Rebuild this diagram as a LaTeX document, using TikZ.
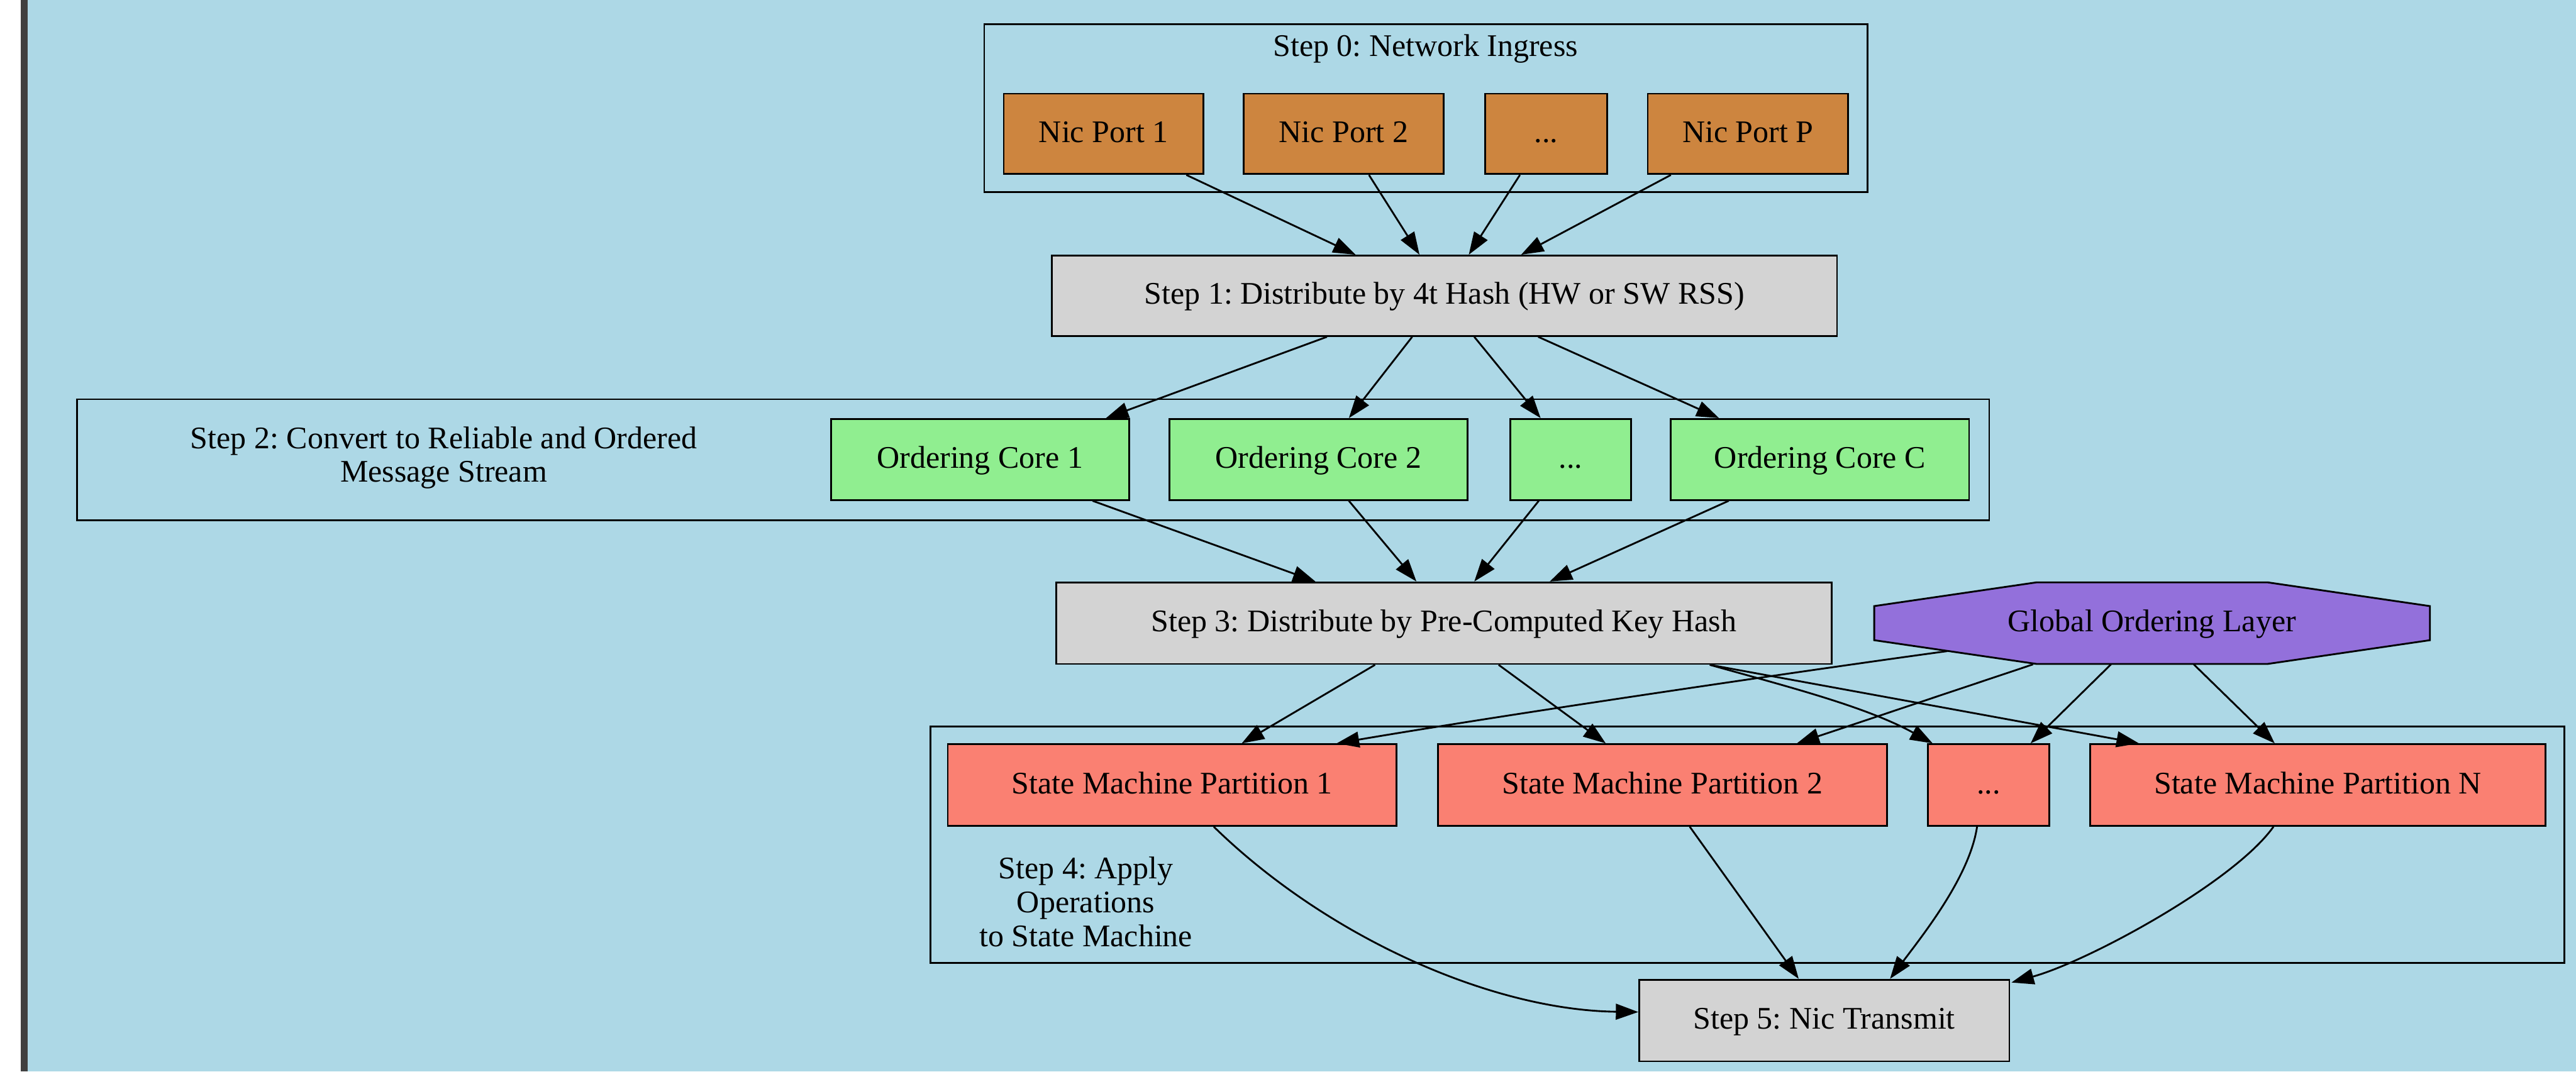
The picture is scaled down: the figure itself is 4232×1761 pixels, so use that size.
\documentclass[tikz,border=0pt]{standalone}
\usepackage{fontspec}
\setmainfont{Liberation Serif}
\usetikzlibrary{arrows.meta,calc}
\definecolor{bgblue}{HTML}{ADD8E6}
\definecolor{edgestrip}{HTML}{404040}
\definecolor{nicport}{HTML}{CD853F}
\definecolor{stepgray}{HTML}{D3D3D3}
\definecolor{coregreen}{HTML}{90EE90}
\definecolor{smsalmon}{HTML}{FA8072}
\definecolor{golpurple}{HTML}{9370DB}
\frenchspacing
\begin{document}
\begin{tikzpicture}[x=0.27101pt,y=-0.27101pt,
  font=\fontsize{14pt}{15pt}\selectfont,
  box/.style={draw=black, line width=0.8pt, inner sep=0pt, align=center,
    text height=10pt, text depth=2.4pt},
  sz/.style 2 args={minimum width={#1*0.27101pt}, minimum height={#2*0.27101pt}},
  cluster/.style={draw=black, line width=0.8pt},
  conn/.style={line width=0.8pt, -{Triangle[length=10pt,width=7pt]}},
  lbl/.style={align=center, inner sep=0pt}]
% page and background
\useasboundingbox (0,0) rectangle (4232,1761);
\fill[white] (0,0) rectangle (34,1761);
\fill[edgestrip] (34,0) rectangle (45,1761);
\fill[bgblue] (45,0) rectangle (4232,1761);

% clusters
\draw[cluster] (1617,40) rectangle (3068,316);
\draw[cluster] (127,656) rectangle (3268,855);
\draw[cluster] (1529,1194) rectangle (4213,1582);
\node[lbl] (l0) at (2342,80) {Step 0: Network Ingress};
\node[lbl] (l2) at (729,752) {Step 2: Convert to Reliable and Ordered\\Message Stream};
\node[lbl] (l4) at (1784,1482) {Step 4: Apply\\Operations\\to State Machine};

% step 0: nic ports
\node[box, fill=nicport, sz={328}{132}] (np1) at (1813,220) {Nic Port 1};
\node[box, fill=nicport, sz={329}{132}] (np2) at (2207.5,220) {Nic Port 2};
\node[box, fill=nicport, sz={200}{132}] (npd) at (2540,220) {...};
\node[box, fill=nicport, sz={329}{132}] (npp) at (2871.5,220) {Nic Port P};

% step 1
\node[box, fill=stepgray, sz={1290}{132}] (s1) at (2373,486) {Step 1: Distribute by 4t Hash (HW or SW RSS)};

% step 2: ordering cores
\node[box, fill=coregreen, sz={490}{133}] (oc1) at (1610,755) {Ordering Core 1};
\node[box, fill=coregreen, sz={490}{133}] (oc2) at (2166,755) {Ordering Core 2};
\node[box, fill=coregreen, sz={199}{133}] (ocd) at (2580.5,755) {...};
\node[box, fill=coregreen, sz={490}{133}] (occ) at (2990,755) {Ordering Core C};

% step 3 and global ordering layer
\node[box, fill=stepgray, sz={1274}{134}] (s3) at (2372,1024) {Step 3: Distribute by Pre-Computed Key Hash};
\coordinate (golc) at (3535.5,1024);
\filldraw[fill=golpurple, line width=0.8pt]
  ($(golc)+(-190,-67)$) -- ($(golc)+(190,-67)$) -- ($(golc)+(456.5,-28)$) -- ($(golc)+(456.5,28)$)
  -- ($(golc)+(190,67)$) -- ($(golc)+(-190,67)$) -- ($(golc)+(-456.5,28)$) -- ($(golc)+(-456.5,-28)$) -- cycle;
\node[lbl, sz={913}{134}, text height=10pt, text depth=2.4pt] (gol) at (golc) {Global Ordering Layer};

% step 4: state machine partitions
\node[box, fill=smsalmon, sz={737}{134}] (sm1) at (1925.5,1290) {State Machine Partition 1};
\node[box, fill=smsalmon, sz={738}{134}] (sm2) at (2731,1290) {State Machine Partition 2};
\node[box, fill=smsalmon, sz={200}{134}] (smd) at (3267,1290) {...};
\node[box, fill=smsalmon, sz={748}{134}] (smn) at (3808,1290) {State Machine Partition N};

% step 5
\node[box, fill=stepgray, sz={608}{134}] (s5) at (2997,1677) {Step 5: Nic Transmit};

% ports -> step 1
\draw[conn] ($(np1.south)+(136,0)$) -- ($(s1.north)+(-146,0)$);
\draw[conn] ($(np2.south)+(41.5,0)$) -- ($(s1.north)+(-41,0)$);
\draw[conn] ($(npd.south)+(-43,0)$) -- ($(s1.north)+(40,0)$);
\draw[conn] ($(npp.south)+(-126.5,0)$) -- ($(s1.north)+(126,0)$);

% step 1 -> ordering cores
\draw[conn] ($(s1.south)+(-193,0)$) -- ($(oc1.north)+(207,0)$);
\draw[conn] ($(s1.south)+(-53,0)$) -- ($(oc2.north)+(50,0)$);
\draw[conn] ($(s1.south)+(49,0)$) -- ($(ocd.north)+(-49.5,0)$);
\draw[conn] ($(s1.south)+(154,0)$) -- ($(occ.north)+(-166,0)$);

% ordering cores -> step 3
\draw[conn] ($(oc1.south)+(185,0)$) -- ($(s3.north)+(-211,0)$);
\draw[conn] ($(oc2.south)+(50,0)$) -- ($(s3.north)+(-45,0)$);
\draw[conn] ($(ocd.south)+(-52.5,0)$) -- ($(s3.north)+(50,0)$);
\draw[conn] ($(occ.south)+(-150,0)$) -- ($(s3.north)+(174,0)$);

% step 3 -> partitions
\draw[conn] ($(s3.south)+(-113,0)$) -- ($(sm1.north)+(114.5,0)$);
\draw[conn] ($(s3.south)+(90,0)$) -- ($(sm2.north)+(-93,0)$);
\draw[conn] ($(s3.south)+(437,0)$) .. controls (2939,1129) and (3065,1161) .. ($(smd.north)+(-92,0)$);
\draw[conn] ($(s3.south)+(437,0)$) -- ($(smn.north)+(-294,0)$);

% global ordering layer -> partitions
\draw[conn] ($(gol.center)+(-336.5,46)$) .. controls (3000,1097) and (2500,1170) .. ($(sm1.north)+(270.5,0)$);
\draw[conn] ($(gol.south)+(-195.5,0)$) -- ($(sm2.north)+(221,0)$);
\draw[conn] ($(gol.south)+(-67.5,0)$) -- ($(smd.north)+(69,0)$);
\draw[conn] ($(gol.south)+(68.5,0)$) -- ($(smn.north)+(-71,0)$);

% partitions -> step 5
\draw[conn] ($(sm1.south)+(68.5,0)$) .. controls (2180,1540) and (2450,1660) .. ($(s5.west)+(0,-14)$);
\draw[conn] ($(sm2.south)+(45,0)$) -- ($(s5.north)+(-42,0)$);
\draw[conn] ($(smd.south)+(-19,0)$) .. controls (3236,1440) and (3160,1535) .. ($(s5.north)+(108,0)$);
\draw[conn] ($(smn.south)+(-73,0)$) .. controls (3670,1450) and (3430,1580) .. ($(s5.north east)+(2,6)$);
\end{tikzpicture}
\end{document}
